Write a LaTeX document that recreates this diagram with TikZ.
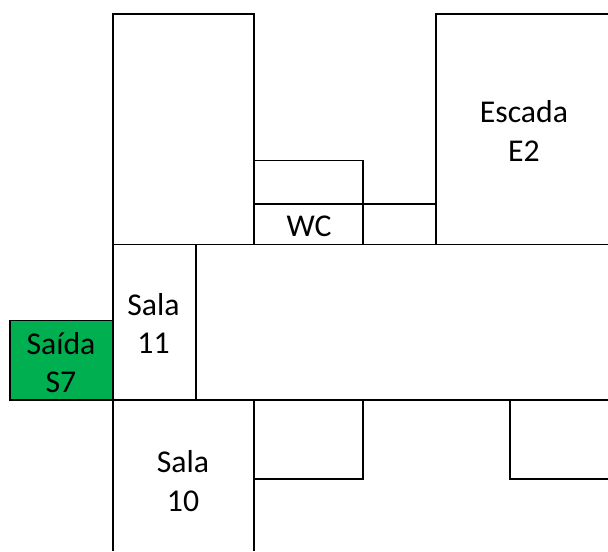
\documentclass[tikz,border=0pt]{standalone}
\usepackage{fontspec}
\setmainfont{Carlito}
\definecolor{exitgreen}{RGB}{0,176,80}
\tikzset{room/.style={draw=black,line width=1.35pt,fill=none},
lab/.style={font=\fontsize{23.8}{29}\selectfont,align=center,inner sep=0pt,text=black}}
\begin{document}
\begin{tikzpicture}[x=0.75pt,y=-0.75pt,line join=miter]
\useasboundingbox (0,0) rectangle (608,551);
\draw[room] (113,551) -- (113,14) -- (254,14) -- (254,244.5);
\draw[room] (254,400) -- (254,551);
\draw[room] (113,244.5) -- (608,244.5);
\draw[room] (113,400) -- (608,400);
\draw[room] (196,244.5) -- (196,400);
\draw[room] (254,160.5) -- (363,160.5) -- (363,244.5);
\draw[room] (254,204) -- (436,204);
\draw[room] (436,244.5) -- (436,14) -- (608,14);
\draw[room] (254,400) -- (254,479) -- (363,479) -- (363,400);
\draw[room] (510,400) -- (510,479) -- (608,479);
\draw[room,fill=exitgreen] (10,320.5) rectangle (113,400);
\node[lab] (e2) at (524,131) {Escada\\E2};
\node[lab] (wc) at (309,226) {WC};
\node[lab] (s11) at (153.5,323.5) {Sala\\11};
\node[lab] (s7) at (61,362.5) {Saída\\S7};
\node[lab] (s10) at (183,481) {Sala\\10};
\end{tikzpicture}
\end{document}
